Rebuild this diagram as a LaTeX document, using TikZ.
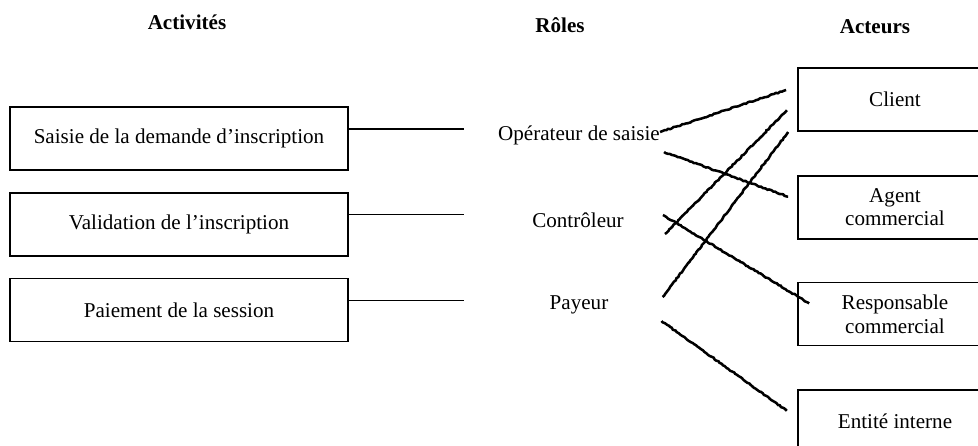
\documentclass[tikz,border=0pt]{standalone}
\usepackage{fontspec}
\setmainfont{Liberation Serif}
\usepackage{tikz}
\usetikzlibrary{positioning,decorations.pathmorphing}

\newcommand{\txtsize}{\fontsize{15}{17}\selectfont}

\begin{document}
\begin{tikzpicture}[
    activbox/.style={draw, rectangle, line width=1.2pt, minimum width=8.45cm, minimum height=1.575cm, font=\txtsize},
    acteurbox/.style={draw, rectangle, line width=1.2pt, minimum width=4.85cm, minimum height=1.575cm, align=center, font=\txtsize},
    role/.style={inner sep=0pt, font=\txtsize},
    titre/.style={font=\txtsize\bfseries},
    lien/.style={line width=1.8pt, decorate, decoration={random steps, segment length=1.5pt, amplitude=0.4pt}}
]
    \useasboundingbox (0,0) rectangle (24.45,-11.15);

    % titres des colonnes
    \node[titre] (tact) at (4.675,-0.55) {Activités};
    \node[titre] (trol) at (14,-0.625) {Rôles};
    \node[titre] (tacr) at (21.875,-0.675) {Acteurs};

    % activites
    \node[activbox] (act1) at (4.475,-3.4625) {Saisie de la demande d’inscription};
    \node[activbox, below=0.525cm of act1] (act2) {Validation de l’inscription};
    \node[activbox, below=0.525cm of act2] (act3) {Paiement de la session};

    % roles
    \node[role] (op) at (14.475,-3.375) {Opérateur de saisie};
    \node[role] (ctrl) at (14.45,-5.5) {Contrôleur};
    \node[role] (pay) at (14.475,-7.625) {Payeur};

    % acteurs
    \node[acteurbox] (cli) at (22.375,-2.4875) {Client};
    \node[acteurbox, below=1.075cm of cli] (agent) {Agent\\commercial};
    \node[acteurbox, below=1.05cm of agent] (resp) {Responsable\\commercial};
    \node[acteurbox, below=1.075cm of resp] (ent) {Entité interne};

    % traits activite -> role
    \coordinate (fin) at (11.6,0);
    \foreach \i in {1,2,3}
        \draw[line width=1.1pt] ([yshift=0.2375cm]act\i.east) -- ([yshift=0.2375cm]act\i.east -| fin);

    % traits role -> acteur
    \draw[lien] ([yshift=0.075cm]op.east) -- ([xshift=-0.275cm,yshift=0.2375cm]cli.west);
    \draw[lien] ([xshift=0.1cm,yshift=-0.425cm]op.east) -- ([xshift=-0.225cm,yshift=0.2625cm]agent.west);
    \draw[lien] ([xshift=1.025cm,yshift=-0.35cm]ctrl.east) -- ([xshift=-0.25cm,yshift=-0.2625cm]cli.west);
    \draw[lien] ([xshift=0.975cm,yshift=0.125cm]ctrl.east) -- ([xshift=0.3cm,yshift=0.2625cm]resp.west);
    \draw[lien] ([xshift=1.35cm,yshift=0.2cm]pay.east) -- ([xshift=-0.225cm,yshift=-0.8125cm]cli.west);
    \draw[lien] ([xshift=1.325cm,yshift=-0.4cm]pay.east) -- ([xshift=-0.25cm,yshift=0.2625cm]ent.west);
\end{tikzpicture}
\end{document}
